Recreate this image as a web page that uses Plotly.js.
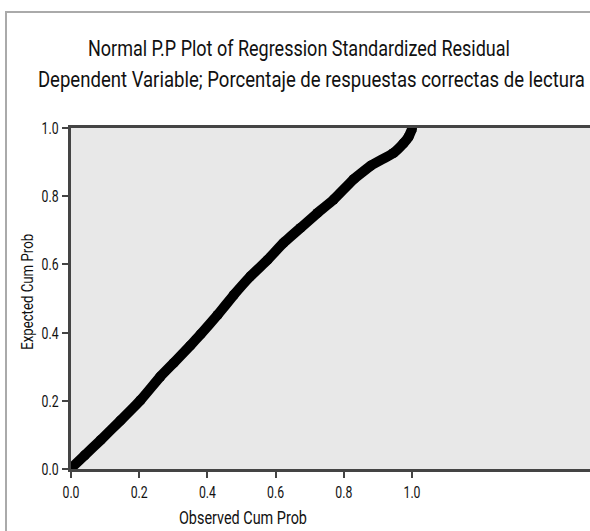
<!DOCTYPE html>
<html><head><meta charset="utf-8">
<script src="https://cdn.plot.ly/plotly-3.0.1.min.js"></script>
<style>
html,body{margin:0;padding:0;background:#fff;}
#wrap{position:relative;width:590px;height:531px;overflow:hidden;}
#frame{position:absolute;left:5px;top:11px;width:600px;height:600px;border-left:2px solid #aaa;border-top:2px solid #aaa;pointer-events:none;z-index:5;}
#chart{position:absolute;left:0;top:0;}
</style></head><body>
<div id="wrap"><div id="chart"></div><div id="frame"></div></div>
<script>
var observed = [0.003,0.04,0.087,0.145,0.204,0.262,0.301,0.35,0.38,0.43,0.477,0.526,0.576,0.623,0.673,0.723,0.77,0.829,0.88,0.946,0.975,0.99,1.0];
var expected = [0.005,0.04,0.085,0.142,0.202,0.271,0.311,0.362,0.395,0.452,0.51,0.565,0.613,0.663,0.707,0.751,0.79,0.85,0.89,0.927,0.955,0.974,0.997];
var xTicks = [0,0.2,0.4,0.6,0.8,1.0];
var yTicks = [0,0.2,0.4,0.6,0.8,1.0];
var tickText = ['0.0','0.2','0.4','0.6','0.8','1.0'];
var titleLines = ['Normal P.P Plot of Regression Standardized Residual','Dependent Variable; Porcentaje de respuestas correctas de lectura'];
var xTitle = 'Observed Cum Prob';
var yTitle = 'Expected Cum Prob';

var FONT = 'Roboto, sans-serif';
var trace = {x: observed, y: expected, mode:'lines+markers', type:'scatter',
  line:{color:'#000', width:10, shape:'spline', smoothing:0.3},
  marker:{color:'#000', size:10}, cliponaxis:true, hoverinfo:'none', showlegend:false};
var axisCommon = {showline:true, linewidth:3, linecolor:'#444', ticks:'outside', ticklen:6, tickwidth:2,
  tickcolor:'#444', showgrid:false, zeroline:false, tickfont:{family:FONT, size:17, color:'#111'}};
var layout = {
  width:590, height:531, margin:{l:71, r:0, t:128, b:62},
  paper_bgcolor:'#fff', plot_bgcolor:'#e8e8e8',
  xaxis: Object.assign({}, axisCommon, {range:[0, 1.522], tickvals:xTicks, ticktext:tickText, mirror:true}),
  yaxis: Object.assign({}, axisCommon, {range:[0, 1], tickvals:yTicks, ticktext:tickText}),
  annotations:[
    {text:titleLines[0], xref:'paper', yref:'paper', x:(299-71)/519, y:(531-62-48)/341, xanchor:'center', yanchor:'middle', showarrow:false, font:{family:FONT, size:22, color:'#111'}},
    {text:titleLines[1], xref:'paper', yref:'paper', x:(311-71)/519, y:(531-62-80)/341, xanchor:'center', yanchor:'middle', showarrow:false, font:{family:FONT, size:22, color:'#111'}},
    {text:xTitle, xref:'paper', yref:'paper', x:(243-71)/519, y:(469-517)/341, xanchor:'center', yanchor:'middle', showarrow:false, font:{family:FONT, size:18, color:'#111'}},
    {text:yTitle, xref:'paper', yref:'paper', x:(27-71)/519, y:(469-292)/341, xanchor:'center', yanchor:'middle', textangle:-90, showarrow:false, font:{family:FONT, size:16, color:'#111'}}
  ]
};
var lengths = [422, 547, 128, 116];
Plotly.newPlot('chart', [trace], layout, {displayModeBar:false, staticPlot:true}).then(function(gd){
  var ann = gd.querySelectorAll('.annotation-text');
  ann.forEach(function(t, i){
    if (lengths[i]) { t.setAttribute('textLength', lengths[i]); t.setAttribute('lengthAdjust', 'spacingAndGlyphs'); }
  });
  gd.querySelectorAll('.xtick text, .ytick text').forEach(function(t){
    t.setAttribute('textLength', 17); t.setAttribute('lengthAdjust', 'spacingAndGlyphs');
  });
});
</script></body></html>
